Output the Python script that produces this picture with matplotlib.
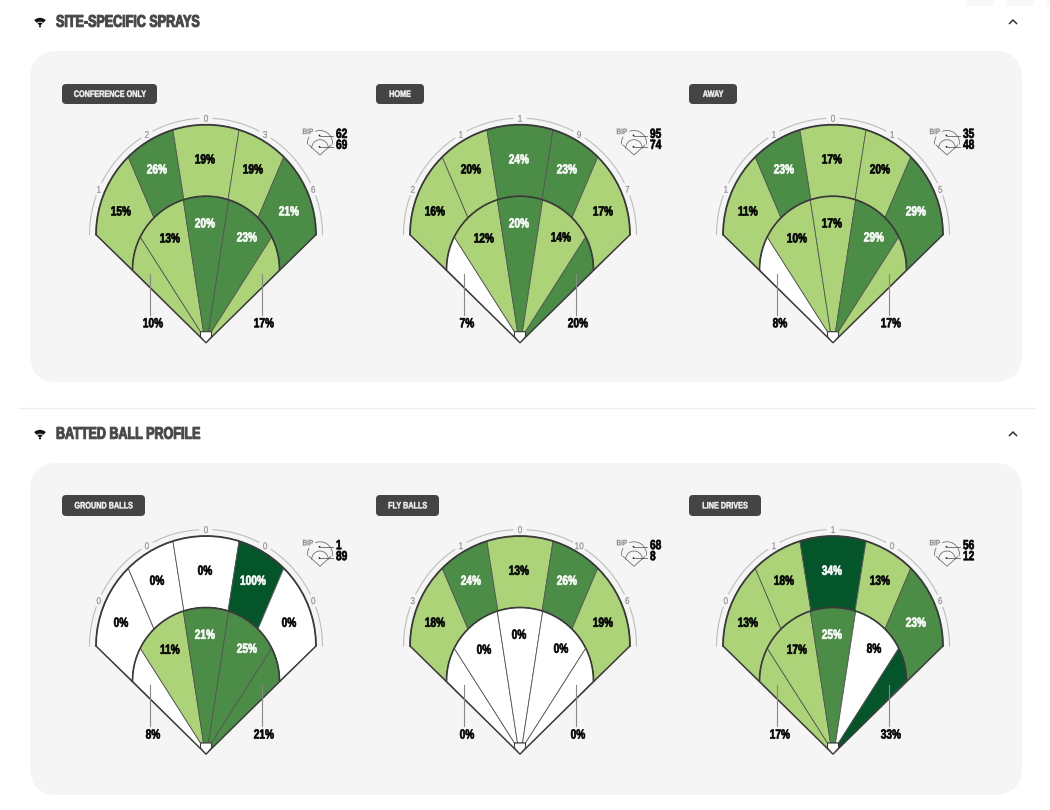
import numpy as np
import matplotlib
matplotlib.use("Agg")
import matplotlib.pyplot as plt
from matplotlib.patches import FancyBboxPatch, Polygon, Rectangle, Wedge, Circle
import matplotlib.patheffects as pe
from matplotlib.transforms import Affine2D

section_titles = ["SITE-SPECIFIC SPRAYS", "BATTED BALL PROFILE"]
chart_titles = ["CONFERENCE ONLY", "HOME", "AWAY", "GROUND BALLS", "FLY BALLS", "LINE DRIVES"]
arc_counts = [[1, 2, 0, 3, 6], [2, 1, 1, 9, 7], [1, 1, 0, 1, 5],
              [0, 0, 0, 0, 0], [3, 1, 0, 10, 6], [0, 1, 1, 0, 6]]
outfield_pct = [[15, 26, 19, 19, 21], [16, 20, 24, 23, 17], [11, 23, 17, 20, 29],
                [0, 0, 0, 100, 0], [18, 24, 13, 26, 19], [13, 18, 34, 13, 23]]
infield_pct = [[10, 13, 20, 23, 17], [7, 12, 20, 14, 20], [8, 10, 17, 29, 17],
               [8, 11, 21, 25, 21], [0, 0, 0, 0, 0], [17, 17, 25, 8, 33]]
bip_top = [62, 95, 35, 1, 68, 56]
bip_bottom = [69, 74, 48, 89, 8, 12]

COL_LIGHT, COL_MID, COL_DARK = "#ADD378", "#4B8C47", "#05552B"
INK = "#3A3A3A"
FONT = ["Liberation Sans", "DejaVu Sans"]
SQUEEZE = 0.76


def zone_color(v, mid_from):
    if v < 10:
        return "white"
    if v < mid_from:
        return COL_LIGHT
    if v < 30:
        return COL_MID
    return COL_DARK


def label_color(v, mid_from):
    return "black" if v < mid_from else "white"


fig = plt.figure(figsize=(10.5, 8.1), dpi=100)
ax = fig.add_axes([0, 0, 1, 1])
ax.set_xlim(0, 1050)
ax.set_ylim(810, 0)
ax.axis("off")


class Condensed(pe.AbstractPathEffect):
    """Narrows a text's glyphs about its anchor and thickens them slightly."""

    def __init__(self, x, y, sx, stroke, color):
        super().__init__()
        self.x, self.y, self.sx, self.stroke, self.color = x, y, sx, stroke, color

    def draw_path(self, renderer, gc, tpath, affine, rgbFace):
        x0 = ax.transData.transform((self.x, self.y))[0]
        aff = affine + Affine2D().translate(-x0, 0).scale(self.sx, 1).translate(x0, 0)
        g = renderer.new_gc()
        g.copy_properties(gc)
        g.set_foreground(self.color)
        g.set_linewidth(self.stroke)
        renderer.draw_path(g, tpath, aff, rgbFace)
        g.restore()


def bold(x, y, s, size, color, ha="center", stroke=0.45, z=6, sx=SQUEEZE, weight="bold"):
    t = ax.text(x, y, s, fontsize=size, color=color, ha=ha, va="center",
                family=FONT, fontweight=weight, zorder=z)
    t.set_path_effects([Condensed(x, y, sx, stroke, color)])
    return t


def arc(cx, cy, r, a0, a1, n=40):
    """Angles in degrees from straight up, positive to the right."""
    t = np.radians(np.linspace(a0, a1, n))
    return np.column_stack([cx + r * np.sin(t), cy - r * np.cos(t)])


def draw_field(idx, ax0, ay0):
    R1, cy1, R2, cy2 = 110, ay0 - 108, 73.5, ay0 - 73
    edges_out = [-90, -45, -17.5, 17.5, 45, 90]
    edges_in = [-90, -63.5, -18, 18, 63.5, 90]
    for i, v in enumerate(outfield_pct[idx]):
        a, b = edges_out[i], edges_out[i + 1]
        pts = np.vstack([arc(ax0, cy1, R1, a, b), arc(ax0, cy2, R2, b, a)])
        ax.add_patch(Polygon(pts, closed=True, fc=zone_color(v, 21), ec="#555555", lw=0.6, zorder=2))
    foot = [[(-5.5, -11), (0, 0)], [(-2.5, -11), (-5.5, -11)], [(2.5, -11), (-2.5, -11)],
            [(5.5, -11), (2.5, -11)], [(0, 0), (5.5, -11)]]
    for i, v in enumerate(infield_pct[idx]):
        a, b = edges_in[i], edges_in[i + 1]
        base = np.array(foot[i], dtype=float) + [ax0, ay0]
        pts = np.vstack([arc(ax0, cy2, R2, a, b), base])
        ax.add_patch(Polygon(pts, closed=True, fc=zone_color(v, 20), ec="#555555", lw=0.6, zorder=3))
    o = arc(ax0, cy1, R1, -90, 90)
    ax.plot(o[:, 0], o[:, 1], color=INK, lw=1.3, zorder=4, solid_capstyle="round")
    o = arc(ax0, cy2, R2, -90, 90)
    ax.plot(o[:, 0], o[:, 1], color=INK, lw=1.2, zorder=4, solid_capstyle="round")
    ax.plot([ax0 - R1, ax0, ax0 + R1], [cy1, ay0, cy1], color=INK, lw=1.0, zorder=4)
    ax.add_patch(Polygon([(ax0 - 5.5, ay0 - 11), (ax0 + 5.5, ay0 - 11), (ax0 + 5.5, ay0 - 6),
                          (ax0, ay0), (ax0 - 5.5, ay0 - 6)], closed=True, fc="white",
                         ec=INK, lw=0.8, zorder=5))
    R3 = 116.5
    tick_ang = [-67, -30.5, 0, 30.5, 67]
    stops = [-90] + [x for a in tick_ang for x in (a - 3.5, a + 3.5)] + [90]
    for j in range(0, len(stops), 2):
        s = arc(ax0, cy1, R3, stops[j], stops[j + 1], 20)
        ax.plot(s[:, 0], s[:, 1], color="#BDBDBD", lw=0.8, zorder=1)
    for a, c in zip(tick_ang, arc_counts[idx]):
        p = arc(ax0, cy1, R3, a, a, 1)[0]
        bold(p[0], p[1] + 0.5, str(c), 7, "#8A8A8A", stroke=0.1, sx=0.85, weight="normal")
    out_xy = [(-85, -130.2), (-49, -172.2), (-1, -182.2), (47, -172.2), (83, -130.2)]
    for (dx, dy), v in zip(out_xy, outfield_pct[idx]):
        bold(ax0 + dx, ay0 + dy, f"{v}%", 9.6, label_color(v, 21))
    in_xy = [(-36, -103.2), (-1, -118.2), (41, -104.2)]
    for (dx, dy), v in zip(in_xy, infield_pct[idx][1:4]):
        c = "black" if v < 10 else label_color(v, 20)
        bold(ax0 + dx, ay0 + dy, f"{v}%", 9.6, c)
    for sgn, v, tx in ((-1, infield_pct[idx][0], -53), (1, infield_pct[idx][4], 58)):
        lx = ax0 + (-56 if sgn < 0 else 56)
        ax.plot([lx, lx], [ay0 - 69, ay0 - 28], color="#888888", lw=0.8, zorder=5)
        bold(ax0 + tx, ay0 - 18.4, f"{v}%", 9.6, "black")
    kx, ky = ax0 + 114, ay0 - 187.7
    for s in (arc(kx, ky - 12, 12.5, -20, 95), arc(kx, ky - 12, 12.5, -95, -62),
              arc(kx, ky - 7, 8.3, -90, 90)):
        ax.plot(s[:, 0], s[:, 1], color="#666666", lw=0.55, zorder=5)
    ax.plot([kx - 11, kx, kx + 11], [ky - 10, ky, ky - 10], color="#666666", lw=0.55, zorder=5)
    for dy_d in (-19.5, -8.2):
        ax.plot([kx, kx + 13], [ky + dy_d, ky + dy_d], color="#555555", lw=0.55, zorder=5)
        ax.add_patch(Circle((kx - 0.5, ky + dy_d), 0.9, fc="#222222", ec="none", zorder=6))
    bold(kx - 12.3, ky - 22.4, "BIP", 5.8, "#8A8A8A", stroke=0.1, sx=0.8, z=7)
    bold(ax0 + 130, ay0 - 207.8, str(bip_top[idx]), 9.6, "black", ha="left")
    bold(ax0 + 130, ay0 - 196.8, str(bip_bottom[idx]), 9.6, "black", ha="left")


def pill(x0, x1, y0, y1, text):
    ax.add_patch(FancyBboxPatch((x0 + 4, y0 + 4), x1 - x0 - 8, y1 - y0 - 8,
                                boxstyle="round,pad=4,rounding_size=4", fc="#444444", ec="none", zorder=2))
    bold((x0 + x1) / 2, (y0 + y1) / 2 + 0.4, text, 6.7, "#F4F4F4", stroke=0.3, sx=0.78)


def section(title, ty, py0, py1):
    bold(56, ty + 0.8, title, 12.2, "#474747", ha="left", stroke=0.7, sx=0.74)
    c = (40, ty + 4.5)
    ax.add_patch(Wedge(c, 8.2, 225, 315, width=3.8, fc="#111111", ec="none"))
    ax.add_patch(Wedge(c, 3.5, 225, 315, fc="#111111", ec="none"))
    ax.add_patch(Circle((40, ty + 5), 1.0, fc="#111111", ec="none"))
    ax.plot([1009.5, 1013, 1016.5], [ty + 2, ty - 1.5, ty + 2], color="#333333", lw=1.1)
    r = 28
    ax.add_patch(FancyBboxPatch((30 + r, py0 + r), 992 - 2 * r, py1 - py0 - 2 * r,
                                boxstyle=f"round,pad={r},rounding_size={r}", fc="#F5F5F5", ec="none", zorder=0.5))


for x0, x1 in ((967, 994), (1007, 1034), (1047, 1050)):
    ax.add_patch(Rectangle((x0, 0), x1 - x0, 6, fc="#F7F7F8", ec="none", zorder=0.5))
section(section_titles[0], 21.5, 51, 382)
section(section_titles[1], 433.5, 463, 795)
ax.plot([18, 1035], [408, 408], color="#EEEEEE", lw=1)

apex_x = [206, 520, 833]
apex_y = [342.7, 754]
pills = [(62, 157), (376, 424), (689, 737), (62, 145), (376, 439), (689, 761)]
pill_y = [(84, 104), (495, 516)]
for k, name in enumerate(chart_titles):
    row, col = k // 3, k % 3
    pill(pills[k][0], pills[k][1], pill_y[row][0], pill_y[row][1], name)
    draw_field(k, apex_x[col], apex_y[row])

fig.savefig("out.png", dpi=100, facecolor="white")
